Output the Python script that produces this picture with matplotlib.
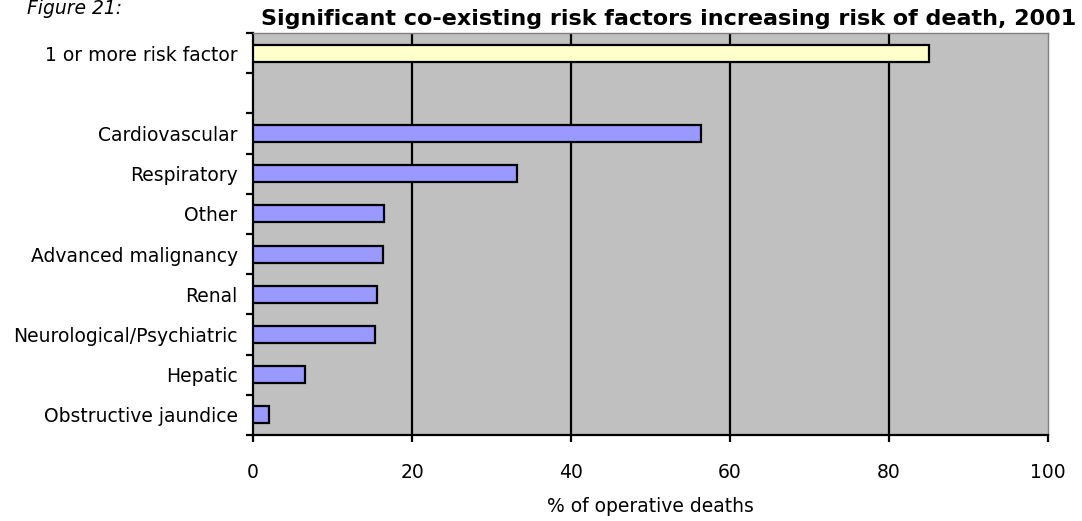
import numpy as np
import matplotlib.pyplot as plt
from matplotlib.ticker import FixedLocator

# risk factor categories (top to bottom) and % of operative deaths
summary_label = "1 or more risk factor"
summary_value = 85.0

factors = ["Cardiovascular", "Respiratory", "Other", "Advanced malignancy",
           "Renal", "Neurological/Psychiatric", "Hepatic", "Obstructive jaundice"]
factor_values = [56.3, 33.2, 16.5, 16.3, 15.6, 15.3, 6.5, 2.0]

x_ticks = [0, 20, 40, 60, 80, 100]

BAR_BLUE = '#9999FF'
BAR_YELLOW = '#FFFFCC'
PLOT_BG = '#C0C0C0'
FS = 13.5

fig = plt.figure(figsize=(10.82, 5.21), dpi=100)
ax = fig.add_axes([253 / 1082, 1 - 435 / 521, 795 / 1082, 402 / 521])
ax.set_facecolor(PLOT_BG)

# one empty slot between the summary bar and the individual factors
n_slots = len(factors) + 2
factor_pos = np.arange(2, n_slots)
bar_h = 0.42

ax.barh([0], [summary_value], height=bar_h, color=BAR_YELLOW,
        edgecolor='black', linewidth=1.6, zorder=3)
ax.barh(factor_pos, factor_values, height=bar_h, color=BAR_BLUE,
        edgecolor='black', linewidth=1.6, zorder=3)

ax.set_xlim(0, 100)
ax.set_ylim(n_slots - 0.5, -0.5)

# vertical gridlines
for v in x_ticks[1:-1]:
    ax.axvline(v, color='black', linewidth=1.6, zorder=1)

ax.set_xticks(x_ticks)
ax.set_xticklabels([str(v) for v in x_ticks])
ax.tick_params(axis='x', direction='out', length=5, width=1.6, pad=15,
               labelsize=FS)

ax.set_yticks([0] + list(factor_pos))
ax.set_yticklabels([summary_label] + factors)
ax.yaxis.set_minor_locator(FixedLocator(np.arange(-0.5, n_slots, 1.0)))
ax.tick_params(axis='y', which='major', length=0, pad=11, labelsize=FS)
ax.tick_params(axis='y', which='minor', direction='out', length=5, width=1.6)

for side in ['left', 'bottom']:
    ax.spines[side].set_linewidth(1.6)
    ax.spines[side].set_color('black')
for side in ['top', 'right']:
    ax.spines[side].set_linewidth(1.0)
    ax.spines[side].set_color('#808080')

fig.text(650 / 1082, 1 - 507 / 521, '% of operative deaths',
         ha='center', va='center', fontsize=FS)

fig.text(669 / 1082, 1 - 19 / 521,
         'Significant co-existing risk factors increasing risk of death, 2001',
         ha='center', va='center', fontsize=16, fontweight='bold')
fig.text(27 / 1082, 1 - 9 / 521, 'Figure 21:', ha='left', va='center',
         fontsize=FS, style='italic')

fig.savefig('out.png', dpi=100)
